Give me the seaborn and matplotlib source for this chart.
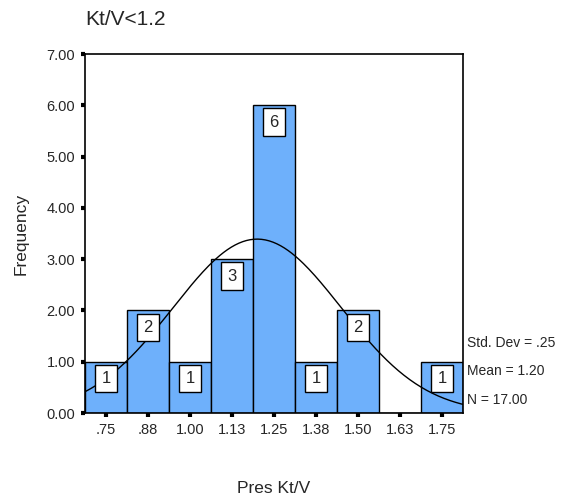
import numpy as np
import matplotlib
matplotlib.use("Agg")
import matplotlib.pyplot as plt
import seaborn as sns

# histogram bins (SPSS style, bin width .125)
bin_centers = [0.75, 0.875, 1.0, 1.125, 1.25, 1.375, 1.5, 1.625, 1.75]
tick_labels = [".75", ".88", "1.00", "1.13", "1.25", "1.38", "1.50", "1.63", "1.75"]
counts = [1, 2, 1, 3, 6, 1, 2, 0, 1]
y_ticks = [0, 1, 2, 3, 4, 5, 6, 7]

std_dev = 0.25
mean = 1.20
n_total = 17
bin_width = 0.125

sns.set_style("white")
plt.rcParams['font.family'] = ['Liberation Sans', 'DejaVu Sans']

fig = plt.figure(figsize=(5.65, 4.96), dpi=100)
ax = fig.add_axes([0.1504, 0.1673, 0.669, 0.7238])

edges = [c - bin_width / 2 for c in bin_centers] + [bin_centers[-1] + bin_width / 2]
sns.histplot(x=bin_centers, weights=counts, bins=edges, ax=ax,
             color="#6eb0fb", alpha=1, edgecolor="black", linewidth=1)

# fitted normal curve
xs = np.linspace(edges[0], edges[-1], 200)
ys = n_total * bin_width * np.exp(-0.5 * ((xs - mean) / std_dev) ** 2) / (std_dev * np.sqrt(2 * np.pi))
sns.lineplot(x=xs, y=ys, ax=ax, color="black", linewidth=1)

# count labels
for c, n in zip(bin_centers, counts):
    if n > 0:
        ax.text(c, n - 0.33, str(n), ha="center", va="center", fontsize=12,
                bbox=dict(boxstyle="square,pad=0.38", facecolor="white",
                          edgecolor="black", linewidth=1))

ax.set_xlim(edges[0], edges[-1])
ax.set_ylim(0, 7)
ax.set_xticks(bin_centers)
ax.set_xticklabels(tick_labels)
ax.set_yticks(y_ticks)
ax.set_yticklabels([f"{v:.2f}" for v in y_ticks])
ax.tick_params(axis="both", direction="out", length=3, width=3, labelsize=10.5,
               color="black", pad=4, left=True, bottom=True)
for s in ax.spines.values():
    s.set_visible(True)
    s.set_color("black")
    s.set_linewidth(1.2)

ax.set_xlabel("Pres Kt/V", fontsize=12.5, labelpad=32)
ax.set_ylabel("Frequency", fontsize=12.5, labelpad=13)
ax.text(0.0, 1.07, "Kt/V<1.2", transform=ax.transAxes, fontsize=15, ha="left", va="bottom")

# summary stats on the right
ax.text(1.01, 1.36, f"Std. Dev = {std_dev:.2f}".replace("0.", "."), transform=ax.get_yaxis_transform(),
        fontsize=10, va="center", ha="left")
ax.text(1.01, 0.82, f"Mean = {mean:.2f}", transform=ax.get_yaxis_transform(),
        fontsize=10, va="center", ha="left")
ax.text(1.01, 0.25, f"N = {n_total:.2f}", transform=ax.get_yaxis_transform(),
        fontsize=10, va="center", ha="left")

fig.savefig("out.png", dpi=100)
